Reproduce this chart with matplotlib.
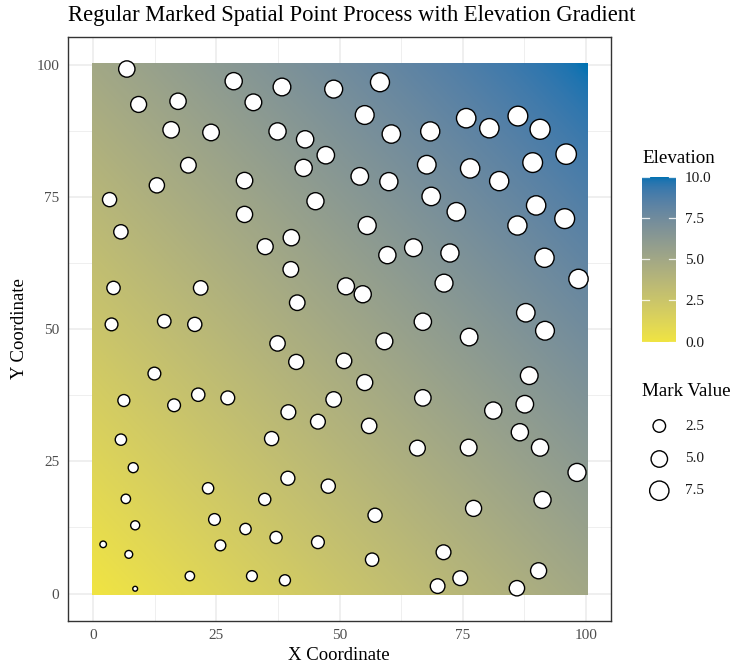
import numpy as np
import matplotlib as mpl
mpl.use('Agg')
import matplotlib.pyplot as plt
from matplotlib.colors import ListedColormap

plt.rcParams['font.family'] = ['Liberation Serif', 'DejaVu Serif']

# Point locations and marks
x = [6.8, 28.5, 38.3, 48.8, 58.2, 9.2, 17.2, 32.5, 55.1, 75.7,
     80.4, 86.2, 90.7, 15.8, 23.9, 37.4, 43.0, 60.5, 68.4, 19.3,
     12.9, 42.7, 47.2, 67.7, 76.5, 82.4, 89.2, 96.0, 30.7, 54.1,
     60.0, 68.6, 3.3, 30.7, 45.1, 73.7, 89.9, 95.7, 86.1, 5.6,
     55.6, 40.2, 34.9, 59.7, 65.0, 72.4, 91.6, 40.1, 4.1, 21.8,
     51.3, 54.7, 71.2, 98.5, 41.4, 87.8, 3.7, 14.4, 20.6, 66.9,
     91.7, 76.3, 37.4, 59.1, 12.4, 41.2, 50.9, 88.5, 6.2, 16.4,
     21.3, 27.3, 48.8, 55.1, 39.6, 66.9, 81.2, 87.6, 45.6, 56.0,
     5.6, 36.2, 65.8, 76.2, 86.6, 90.7, 8.1, 98.2, 39.5, 47.7,
     23.3, 6.6, 34.8, 91.2, 77.2, 57.2, 8.5, 24.6, 30.9, 37.1,
     45.6, 2.0, 25.8, 7.2, 71.1, 56.6, 19.6, 32.2, 38.9, 8.5,
     69.9, 74.5, 86.0, 90.4]
y = [99.2, 96.9, 95.8, 95.4, 96.7, 92.5, 93.1, 92.9, 90.5, 89.9,
     88.0, 90.3, 87.8, 87.7, 87.2, 87.4, 85.9, 86.9, 87.4, 81.0,
     77.2, 80.5, 82.9, 81.1, 80.4, 78.0, 81.5, 83.1, 78.1, 78.9,
     77.9, 75.1, 74.5, 71.7, 74.2, 72.2, 73.4, 70.9, 69.6, 68.4,
     69.6, 67.3, 65.6, 64.0, 65.4, 64.4, 63.5, 61.3, 57.8, 57.8,
     58.1, 56.6, 58.7, 59.5, 55.0, 53.1, 50.9, 51.5, 50.9, 51.4,
     49.7, 48.5, 47.3, 47.7, 41.6, 43.8, 44.0, 41.2, 36.5, 35.6,
     37.6, 37.0, 36.7, 39.9, 34.3, 37.0, 34.6, 35.8, 32.5, 31.7,
     29.1, 29.3, 27.5, 27.6, 30.5, 27.6, 23.8, 22.9, 21.8, 20.3,
     19.9, 17.9, 17.8, 17.7, 16.1, 14.8, 12.9, 14.0, 12.2, 10.6,
     9.7, 9.3, 9.1, 7.4, 7.8, 6.4, 3.3, 3.3, 2.5, 0.9,
     1.4, 2.9, 1.0, 4.3]
mark = [4.9, 5.6, 6.0, 6.2, 7.2, 4.6, 4.9, 5.2, 7.0, 7.6,
        7.5, 7.9, 8.2, 5.0, 5.1, 5.6, 5.7, 6.6, 7.3, 4.4,
        4.1, 5.6, 5.8, 6.8, 7.5, 7.4, 7.9, 8.6, 5.0, 5.9,
        6.4, 6.7, 3.4, 4.8, 5.5, 6.7, 7.5, 8.0, 7.3, 3.5,
        6.3, 4.9, 4.6, 5.6, 6.1, 6.4, 7.4, 4.4, 2.9, 3.6,
        5.4, 5.5, 6.2, 7.5, 4.3, 6.7, 2.6, 3.0, 3.4, 5.7,
        7.0, 5.9, 4.2, 5.3, 2.6, 4.0, 4.3, 6.0, 2.2, 2.6,
        2.9, 3.2, 4.3, 4.7, 3.8, 5.0, 5.6, 5.9, 3.8, 4.2,
        1.9, 3.4, 4.5, 5.2, 5.6, 5.6, 1.4, 6.3, 3.3, 3.4,
        1.9, 1.2, 2.3, 5.5, 4.7, 3.4, 1.1, 2.1, 1.9, 2.3,
        2.6, 0.6, 1.7, 0.8, 3.8, 2.9, 1.2, 1.7, 1.8, 0.5,
        3.7, 3.8, 4.2, 4.7]

# Elevation surface: rises linearly from 0 (origin) to 10 (top right)
grid = np.linspace(0, 100, 201)
gx, gy = np.meshgrid(grid, grid)
elev = (gx + gy) / 20.0

elev_ticks = [0, 2.5, 5.0, 7.5, 10.0]
size_breaks = [2.5, 5.0, 7.5]
low_col = '#F0E442'
high_col = '#0072B2'


# gradient interpolated in CIELAB like ggplot's scale_fill_gradient
def hex_rgb(h):
    h = h.lstrip('#')
    return np.array([int(h[i:i + 2], 16) / 255.0 for i in (0, 2, 4)])


M = np.array([[0.4124564, 0.3575761, 0.1804375],
              [0.2126729, 0.7151522, 0.0721750],
              [0.0193339, 0.1191920, 0.9503041]])
WHITE = np.array([0.95047, 1.0, 1.08883])


def rgb_to_lab(c):
    lin = np.where(c <= 0.04045, c / 12.92, ((c + 0.055) / 1.055) ** 2.4)
    xyz = M @ lin / WHITE
    f = np.where(xyz > 0.008856, np.cbrt(xyz), 7.787 * xyz + 16 / 116.)
    return np.array([116 * f[1] - 16, 500 * (f[0] - f[1]), 200 * (f[1] - f[2])])


def lab_to_rgb(lab):
    fy = (lab[0] + 16) / 116.
    fx = fy + lab[1] / 500.
    fz = fy - lab[2] / 200.
    f = np.array([fx, fy, fz])
    xyz = np.where(f ** 3 > 0.008856, f ** 3, (f - 16 / 116.) / 7.787) * WHITE
    lin = np.linalg.solve(M, xyz)
    c = np.where(lin <= 0.0031308, 12.92 * lin, 1.055 * np.clip(lin, 0, None) ** (1 / 2.4) - 0.055)
    return np.clip(c, 0, 1)


lab_lo = rgb_to_lab(hex_rgb(low_col))
lab_hi = rgb_to_lab(hex_rgb(high_col))
cols = [lab_to_rgb(lab_lo + (lab_hi - lab_lo) * t) for t in np.linspace(0, 1, 256)]
cmap = ListedColormap(cols)

# size scale (area-like, ggplot range 1..6)
m_min, m_max = min(mark), max(mark)


def marker_area(v):
    t = (np.asarray(v) - m_min) / (m_max - m_min)
    d_px = 3.12 * (1 + 5 * np.sqrt(t)) + 1.7
    return (d_px * 0.72) ** 2


W, H = 734, 670
fig = plt.figure(figsize=(W / 100, H / 100), dpi=100)
ax = fig.add_axes([67.7 / W, 1 - 621 / H, (611 - 67.7) / W, (621 - 37.3) / H])

ax.imshow(elev, extent=(-0.25, 100.25, -0.25, 100.25), origin='lower',
          cmap=cmap, vmin=0, vmax=10, aspect='auto', interpolation='bilinear', zorder=1)
ax.scatter(x, y, s=marker_area(mark), facecolor='white', edgecolor='black',
           linewidth=1.0, zorder=3)

ax.set_xlim(-5.2, 105.1)
ax.set_ylim(-5.2, 105.2)
ticks = [0, 25, 50, 75, 100]
ax.set_xticks(ticks)
ax.set_yticks(ticks)
ax.set_xticks([12.5, 37.5, 62.5, 87.5], minor=True)
ax.set_yticks([12.5, 37.5, 62.5, 87.5], minor=True)
ax.grid(which='major', color='#EBEBEB', linewidth=1.1, zorder=0)
ax.grid(which='minor', color='#EBEBEB', linewidth=0.55, zorder=0)
ax.set_axisbelow(True)
ax.tick_params(which='both', length=0, labelsize=11, labelcolor='#4D4D4D', pad=6)
for sp in ax.spines.values():
    sp.set_color('#333333')
    sp.set_linewidth(1.0)

fig.text(68 / W, 1 - 21 / H, 'Regular Marked Spatial Point Process with Elevation Gradient',
         fontsize=16.3, va='baseline', ha='left')
fig.text(339 / W, 1 - 656 / H, 'X Coordinate', fontsize=13.5, ha='center', va='center')
fig.text(20 / W, 1 - 329 / H, 'Y Coordinate', fontsize=13.5, ha='center', va='center',
         rotation=90)

# colour bar
cax = fig.add_axes([642 / W, 1 - 341.7 / H, 34 / W, 165 / H])
cax.imshow(np.linspace(0, 10, 256)[:, None], extent=(0, 1, 0, 10), origin='lower',
           cmap=cmap, aspect='auto')
cax.set_xlim(0, 1)
cax.set_ylim(0, 10)
cax.set_xticks([])
cax.yaxis.tick_right()
cax.set_yticks(elev_ticks)
cax.set_yticklabels(['%.1f' % v for v in elev_ticks])
cax.tick_params(length=0, labelsize=11, pad=6.5, labelcolor='#1A1A1A')
for sp in cax.spines.values():
    sp.set_visible(False)
for v in elev_ticks:
    cax.plot([0, 0.2], [v, v], color='white', lw=0.9, alpha=0.85, clip_on=False)
    cax.plot([0.8, 1], [v, v], color='white', lw=0.9, alpha=0.85, clip_on=False)
fig.text(642 / W, 1 - 159 / H, 'Elevation', fontsize=13.7, ha='left', va='center')

# size legend
lax = fig.add_axes([0, 0, 1, 1])
lax.set_xlim(0, W)
lax.set_ylim(H, 0)
lax.axis('off')
fig.text(642 / W, 1 - 391 / H, 'Mark Value', fontsize=13.7, ha='left', va='center')
key_y = [426, 459, 490.7]
lax.scatter([659.3] * 3, key_y, s=marker_area(size_breaks), facecolor='white',
            edgecolor='black', linewidth=1.0)
for v, ky in zip(size_breaks, key_y):
    lax.text(685, ky, '%.1f' % v, fontsize=11, ha='left', va='center', color='#1A1A1A')

plt.savefig('out.png', dpi=100)
plt.close()
